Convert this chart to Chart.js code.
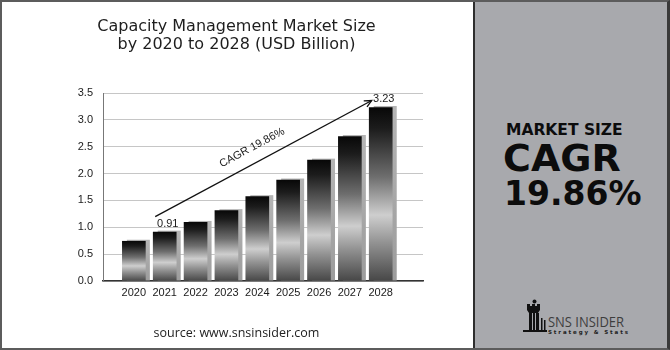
<!DOCTYPE html>
<html>
<head>
<meta charset="utf-8">
<script src="https://cdn.jsdelivr.net/npm/chart.js@4.4.0/dist/chart.umd.min.js"></script>
<style>
  html, body { margin: 0; padding: 0; background: #fff; }
  #frame { position: relative; width: 670px; height: 350px; overflow: hidden; background: #fff; }
  #plot { position: absolute; left: 0; top: 0; }
  #source { position: absolute; left: 0; width: 473px; top: 324px; text-align: center;
            font: 12.5px "Open Sans", sans-serif; color: #222; }
  #panel { position: absolute; left: 473px; top: 0; width: 197px; height: 350px;
           background: #a8a9ad; border-left: 2px solid #2e2e2e; box-sizing: border-box; }
  #border { position: absolute; left: 0; top: 0; width: 670px; height: 350px; box-sizing: border-box;
            border: 2px solid #5c5c5c; border-right: 3px solid #3a3a3a; pointer-events: none; }
</style>
</head>
<body>
<div id="frame">
  <canvas id="plot" width="473" height="350"></canvas>
  <div id="source">source: www.snsinsider.com</div>
  <div id="panel">
    <svg width="195" height="350" xmlns="http://www.w3.org/2000/svg">
      <g font-family="DejaVu Sans, sans-serif" font-weight="bold" fill="#0c0c0c">
        <text x="31" y="135" font-size="15.5">MARKET SIZE</text>
        <text x="28" y="171" font-size="38">CAGR</text>
        <text x="29" y="205" font-size="33">19.86%</text>
      </g>
      <!-- logo mark -->
      <g fill="#111">
        <circle cx="59.5" cy="301.5" r="2"/>
        <path d="M52 304 h3 v2 h2 v-2 h3 v2 h2 v-2 h3 v6 l-2 3 h-9 l-2 -3 z"/>
        <rect x="54" y="313" width="3" height="17"/>
        <rect x="58" y="313" width="2" height="17"/>
        <rect x="61" y="313" width="3" height="17"/>
        <rect x="66" y="318" width="1.5" height="12"/>
        <rect x="69" y="320" width="1.5" height="10"/>
        <rect x="48" y="330" width="24" height="2"/>
      </g>
      <text x="73" y="327" font-family="Open Sans, sans-serif" font-size="14" fill="#3d3d3d"
            textLength="76" lengthAdjust="spacingAndGlyphs">SNS INSIDER</text>
      <text x="73" y="334" font-family="DejaVu Sans, sans-serif" font-weight="bold" font-size="5.5" fill="#222"
            textLength="80" lengthAdjust="spacing">Strategy &amp; Stats</text>
    </svg>
  </div>
  <div id="border"></div>
</div>

<script>
const years = [2020, 2021, 2022, 2023, 2024, 2025, 2026, 2027, 2028];
const marketSize = [0.74, 0.91, 1.09, 1.31, 1.57, 1.88, 2.25, 2.69, 3.23];
const yTicks = [0, 0.5, 1.0, 1.5, 2.0, 2.5, 3.0, 3.5];
const titleLines = ['Capacity Management Market Size', 'by 2020 to 2028 (USD Billion)'];
const cagrLabel = 'CAGR 19.86%';
const labelledYears = [2021, 2028];

const tickFont = { family: '"Liberation Sans", Arial, sans-serif', size: 11 };

// metallic vertical gradient for each bar
function barFill(context) {
  const chart = context.chart;
  const yScale = chart.scales.y;
  if (!chart.chartArea || !yScale || context.raw == null) return '#444';
  const top = yScale.getPixelForValue(context.raw.y);
  const bottom = yScale.getPixelForValue(0);
  if (!isFinite(top) || !isFinite(bottom)) return '#444';
  const g = chart.ctx.createLinearGradient(0, top, 0, bottom);
  g.addColorStop(0, '#080808');
  g.addColorStop(0.12, '#1c1c1c');
  g.addColorStop(0.4, '#6e6e6e');
  g.addColorStop(0.62, '#cecece');
  g.addColorStop(0.78, '#929292');
  g.addColorStop(1, '#474747');
  return g;
}

// grey block behind every bar, shifted right and up
const barShadow = {
  id: 'barShadow',
  beforeDatasetsDraw(chart) {
    const ctx = chart.ctx;
    const meta = chart.getDatasetMeta(0);
    ctx.save();
    meta.data.forEach(bar => {
      const { x, y, base, width } = bar.getProps(['x', 'y', 'base', 'width'], true);
      const g = ctx.createLinearGradient(0, y, 0, base);
      g.addColorStop(0, '#b4b4b4');
      g.addColorStop(1, '#9c9c9c');
      ctx.fillStyle = g;
      ctx.fillRect(x - width / 2 + 4.5, y - 1.5, width, base - y + 1.5);
    });
    ctx.restore();
  }
};

// value labels, growth arrow and its caption
const growthArrow = {
  id: 'growthArrow',
  afterDatasetsDraw(chart) {
    const ctx = chart.ctx;
    const meta = chart.getDatasetMeta(0);
    const bars = {};
    meta.data.forEach((bar, i) => { bars[years[i]] = bar; });

    ctx.save();
    ctx.fillStyle = '#1a1a1a';
    ctx.font = '11px "Liberation Sans", Arial, sans-serif';
    ctx.textAlign = 'center';
    ctx.textBaseline = 'alphabetic';
    labelledYears.forEach(yr => {
      const i = years.indexOf(yr);
      const bar = bars[yr];
      ctx.fillText(marketSize[i].toFixed(2), bar.x + 3, bar.y - 5.5);
    });

    const first = bars[labelledYears[0]];
    const last = bars[labelledYears[1]];
    const x0 = first.x - 9.5, y0 = first.y - 15.5;
    const x1 = last.x - 9, y1 = last.y - 7;
    ctx.strokeStyle = '#111';
    ctx.lineWidth = 1.3;
    ctx.beginPath();
    ctx.moveTo(x0, y0);
    ctx.lineTo(x1, y1);
    ctx.stroke();

    const ang = Math.atan2(y1 - y0, x1 - x0);
    const head = 8;
    ctx.beginPath();
    ctx.moveTo(x1 - head * Math.cos(ang - 0.45), y1 - head * Math.sin(ang - 0.45));
    ctx.lineTo(x1, y1);
    ctx.lineTo(x1 - head * Math.cos(ang + 0.45), y1 - head * Math.sin(ang + 0.45));
    ctx.stroke();

    const t = 0.48, off = 15;
    const cx = x0 + (x1 - x0) * t + off * Math.sin(ang);
    const cy = y0 + (y1 - y0) * t - off * Math.cos(ang);
    ctx.translate(cx, cy);
    ctx.rotate(ang);
    ctx.textBaseline = 'middle';
    ctx.fillText(cagrLabel, 0, 0);
    ctx.restore();
  }
};

new Chart(document.getElementById('plot'), {
  type: 'bar',
  data: {
    datasets: [{
      data: years.map((yr, i) => ({ x: yr, y: marketSize[i] })),
      backgroundColor: barFill,
      borderWidth: 0,
      barThickness: 23
    }]
  },
  options: {
    responsive: false,
    animation: false,
    devicePixelRatio: 1,
    layout: { padding: { left: 0, right: 0, top: 0, bottom: 49 } },
    plugins: {
      legend: { display: false },
      tooltip: { enabled: false },
      title: {
        display: true,
        text: titleLines,
        color: '#1e1e1e',
        font: { family: '"DejaVu Sans", sans-serif', size: 16, weight: 'normal', lineHeight: 1.125 },
        padding: { top: 18, bottom: 39 }
      }
    },
    scales: {
      x: {
        type: 'linear',
        offset: false,
        min: 2019,
        max: 2029.37,
        afterBuildTicks: s => { s.ticks = years.map(v => ({ value: v })); },
        afterFit: s => { s.height = 20; },
        grid: { display: false, drawTicks: false },
        border: { color: '#333', width: 1.5 },
        ticks: { font: tickFont, color: '#1a1a1a', padding: 5, maxRotation: 0, autoSkip: false,
                 callback: v => String(v) }
      },
      y: {
        min: 0,
        max: 3.5,
        afterBuildTicks: s => { s.ticks = yTicks.map(v => ({ value: v })); },
        afterFit: s => { s.width = 103; },
        grid: { color: '#c6c6c6', drawTicks: false },
        border: { color: '#777', width: 1 },
        ticks: { font: tickFont, color: '#1a1a1a', padding: 10, callback: v => v.toFixed(1) }
      },
      // empty strip on the right so the plot stops short of the panel
      gutter: {
        type: 'linear',
        position: 'right',
        afterFit: s => { s.width = 50; },
        grid: { display: false },
        border: { display: false },
        ticks: { display: false }
      }
    }
  },
  plugins: [barShadow, growthArrow]
});
</script>
</body>
</html>
